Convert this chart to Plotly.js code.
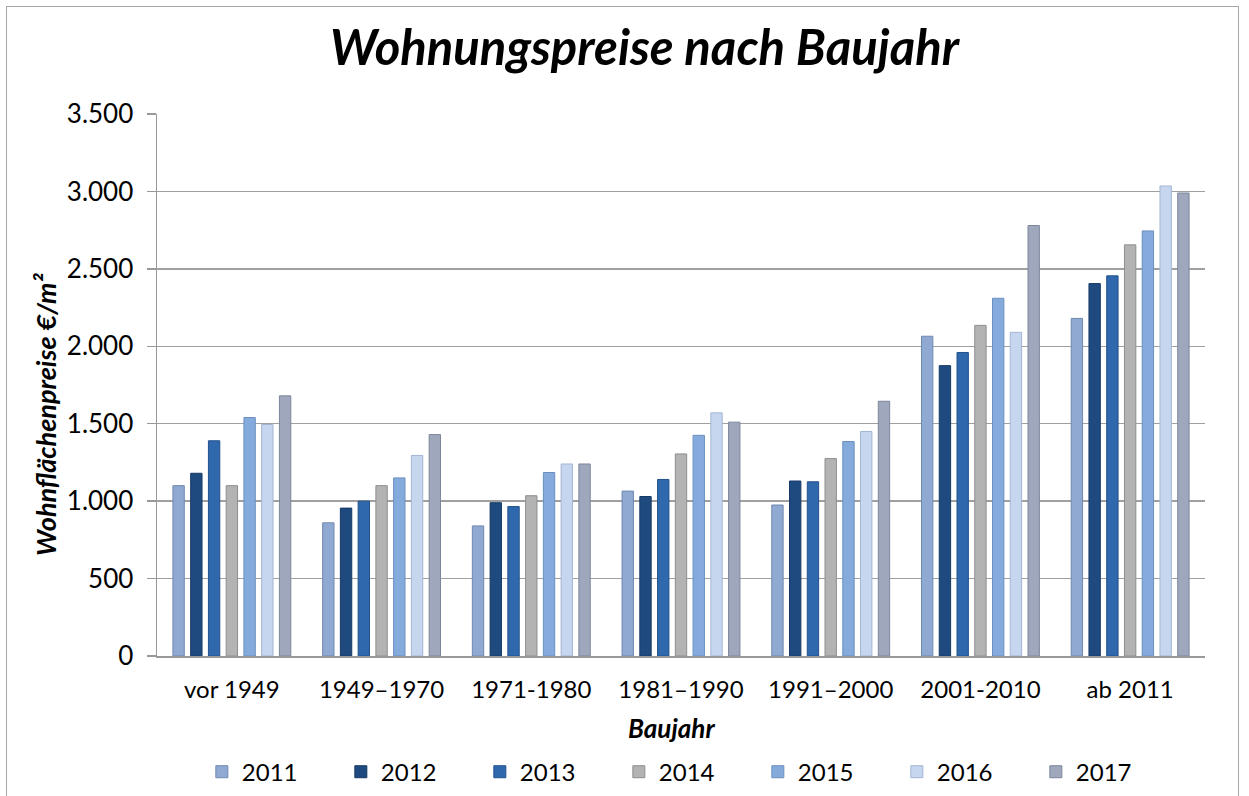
<!DOCTYPE html>
<html>
<head>
<meta charset="utf-8">
<script src="https://cdn.plot.ly/plotly-3.0.1.min.js"></script>
<style>
html,body{margin:0;padding:0;background:#fff;}
#frame{position:absolute;left:6px;top:6px;width:1233px;height:800px;border:1px solid #a6a6a6;box-sizing:border-box;}
#chart{position:absolute;left:0;top:0;width:1249px;height:796px;}
</style>
</head>
<body>
<div id="frame"></div>
<div id="chart"></div>
<script>
const categories = ["vor 1949", "1949–1970", "1971-1980", "1981–1990", "1991–2000", "2001-2010", "ab 2011"];
const years = ["2011", "2012", "2013", "2014", "2015", "2016", "2017"];
const v2011 = [1100, 860, 840, 1065, 975, 2065, 2180];
const v2012 = [1180, 955, 990, 1030, 1130, 1875, 2405];
const v2013 = [1390, 1000, 965, 1140, 1125, 1960, 2455];
const v2014 = [1100, 1100, 1035, 1305, 1275, 2135, 2655];
const v2015 = [1540, 1150, 1185, 1425, 1385, 2310, 2745];
const v2016 = [1495, 1295, 1240, 1570, 1450, 2090, 3035];
const v2017 = [1680, 1430, 1240, 1510, 1645, 2780, 2990];
const seriesValues = [v2011, v2012, v2013, v2014, v2015, v2016, v2017];
const titleText = "Wohnungspreise nach Baujahr";
const xTitle = "Baujahr";
const yTitle = "Wohnflächenpreise €/m²";
const colors = ["#8fa9d2", "#1f4a80", "#2f68ad", "#b3b3b3", "#85abdd", "#c6d6ef", "#9ea7bc"];
const lineColors = ["#6f88ae", "#163a66", "#22528c", "#8e8e8e", "#6a8fc0", "#a3b5d3", "#7d869b"];

const FONT = "Lato, 'Open Sans', sans-serif";

const traces = years.map((y, i) => ({
  type: "bar",
  name: y,
  x: categories,
  y: seriesValues[i],
  marker: {color: colors[i], line: {color: lineColors[i], width: 1}},
  hoverinfo: "x+y+name"
}));

const layout = {
  width: 1249,
  height: 796,
  margin: {l: 157, r: 44, t: 114, b: 140},
  paper_bgcolor: "rgba(0,0,0,0)",
  plot_bgcolor: "#fff",
  separators: ",.",
  barmode: "group",
  bargap: 0.17,
  bargroupgap: 0.36,
  showlegend: true,
  font: {family: FONT, color: "#000", size: 24},
  title: {
    text: "<b><i>" + titleText + "</i></b>",
    font: {family: FONT, size: 49, color: "#000"},
    x: 0.516, xanchor: "center",
    y: 0.94, yanchor: "middle", yref: "container"
  },
  xaxis: {
    type: "category",
    automargin: false,
    showline: true, linecolor: "#999", linewidth: 1.5,
    showgrid: false, ticks: "",
    ticklabelstandoff: 12,
    tickfont: {family: FONT, size: 24, color: "#000"}
  },
  yaxis: {
    range: [0, 3500],
    dtick: 500,
    tickformat: ",d",
    automargin: false,
    showline: true, linecolor: "#999", linewidth: 1.5,
    showgrid: true, gridcolor: "#a0a0a0", gridwidth: 1.5,
    zeroline: false,
    ticks: "outside", ticklen: 9, tickcolor: "#999", tickwidth: 1.5,
    ticklabelstandoff: 8,
    tickfont: {family: FONT, size: 26, color: "#000"}
  },
  annotations: [
    {
      text: "<b><i>" + yTitle + "</i></b>",
      xref: "paper", yref: "paper",
      x: -0.106, y: 0.4465,
      xanchor: "center", yanchor: "middle",
      textangle: -90, showarrow: false,
      font: {family: FONT, size: 27, color: "#000"}
    },
    {
      text: "<b><i>" + xTitle + "</i></b>",
      xref: "paper", yref: "paper",
      x: 0.4905, y: -0.1328,
      xanchor: "center", yanchor: "middle",
      showarrow: false,
      font: {family: FONT, size: 26, color: "#000"}
    }
  ],
  legend: {
    orientation: "h",
    xref: "paper", yref: "container",
    x: 0.507, xanchor: "center",
    y: 0.03, yanchor: "middle",
    entrywidth: 94, entrywidthmode: "pixels",
    font: {family: FONT, size: 24, color: "#000"},
    itemwidth: 30,
    traceorder: "normal"
  }
};

Plotly.newPlot("chart", traces, layout, {displayModeBar: false, staticPlot: true});
</script>
</body>
</html>
